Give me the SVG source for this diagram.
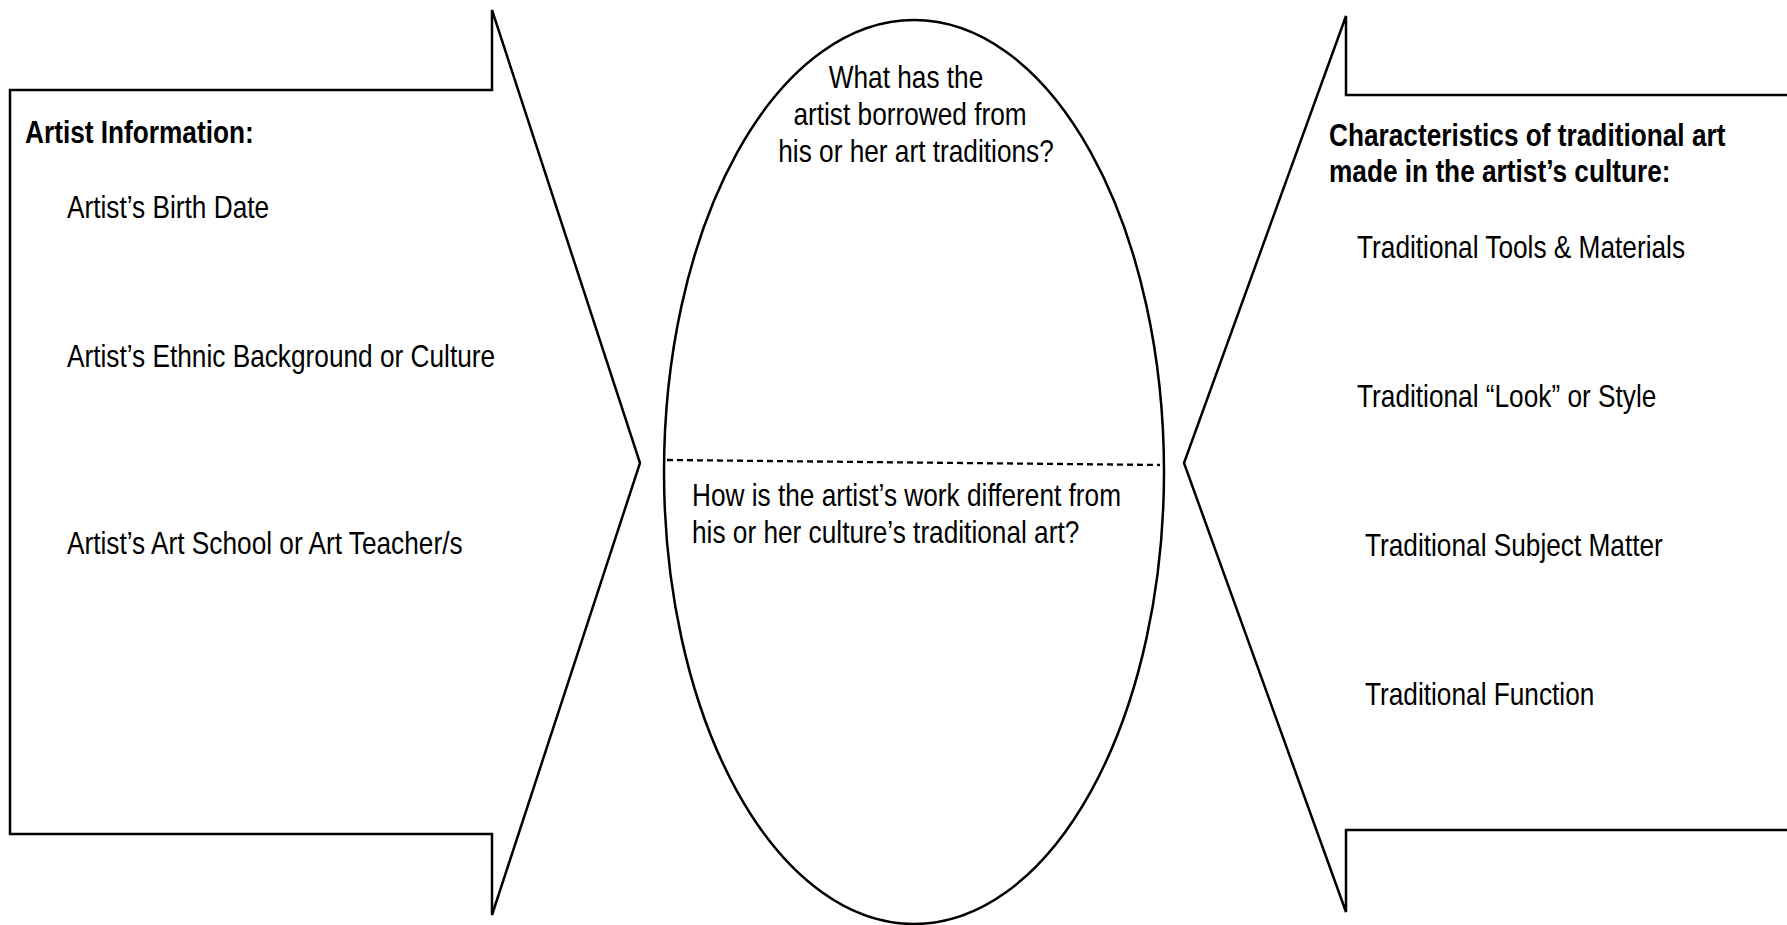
<svg xmlns="http://www.w3.org/2000/svg" width="1787" height="925" viewBox="0 0 1787 925">
<style>
.shape{fill:#fff;stroke:#000;stroke-width:2.5;stroke-linejoin:miter}
.t{font-family:"Liberation Sans",Arial,sans-serif;font-size:32px;fill:#000}
.b{font-weight:bold}
.dash{stroke:#000;stroke-width:2.3;stroke-dasharray:6 4;fill:none}
</style>
<rect width="1787" height="925" fill="#fff"/>
<g id="left-node">
<path class="shape" d="M10,90 L492,90 L492,10 L640,463 L492,915 L492,834 L10,834 Z"/>
<g transform="scale(0.82,1)">
<text class="t b" x="30.5" y="143">Artist Information:</text>
<text class="t" x="81.7" y="218">Artist’s Birth Date</text>
<text class="t" x="81.7" y="367">Artist’s Ethnic Background or Culture</text>
<text class="t" x="81.7" y="554">Artist’s Art School or Art Teacher/s</text>
</g>
</g>
<g id="center-node">
<ellipse class="shape" cx="914" cy="472" rx="250" ry="452"/>
<g transform="scale(0.82,1)">
<text class="t" x="1104.9" y="88" text-anchor="middle">What has the</text>
<text class="t" x="1109.8" y="125" text-anchor="middle">artist borrowed from</text>
<text class="t" x="1117.1" y="162" text-anchor="middle">his or her art traditions?</text>
<text class="t" x="843.9" y="506">How is the artist’s work different from</text>
<text class="t" x="843.9" y="543">his or her culture’s traditional art?</text>
</g>
</g>
<g id="right-node">
<path class="shape" d="M1790,95 L1346,95 L1346,16 L1184,463 L1346,912 L1346,830 L1790,830"/>
<g transform="scale(0.82,1)">
<text class="t b" x="1620.7" y="146">Characteristics of traditional art</text>
<text class="t b" x="1620.7" y="182">made in the artist’s culture:</text>
<text class="t" x="1654.9" y="258">Traditional Tools &amp; Materials</text>
<text class="t" x="1654.9" y="407">Traditional “Look” or Style</text>
<text class="t" x="1664.6" y="556">Traditional Subject Matter</text>
<text class="t" x="1664.6" y="705">Traditional Function</text>
</g>
</g>
<g id="connectors">
<line class="dash" x1="667" y1="460" x2="1160" y2="465"/>
</g>
</svg>
